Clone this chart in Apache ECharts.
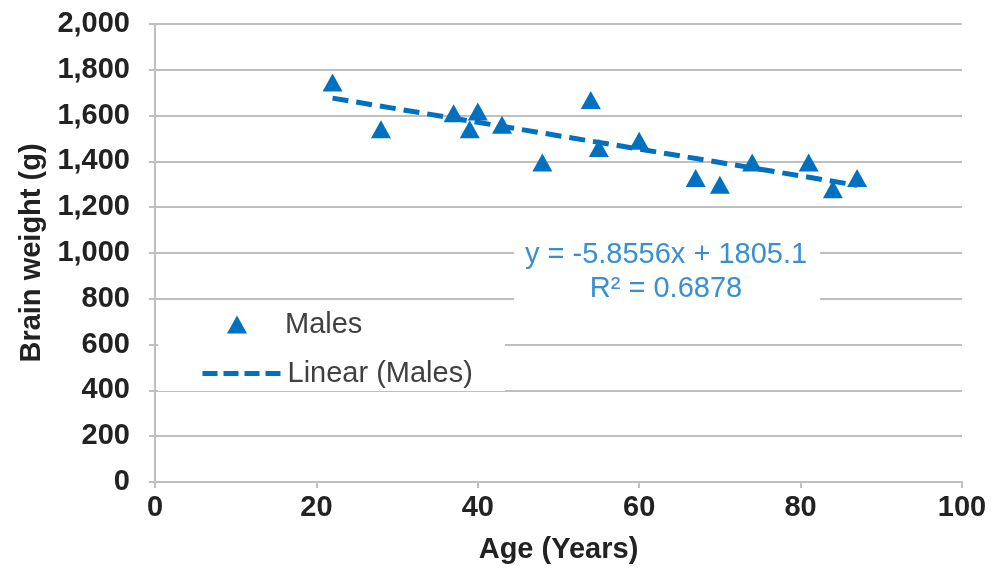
<!DOCTYPE html>
<html>
<head>
<meta charset="utf-8">
<title>Brain weight vs age</title>
<script src="https://cdn.jsdelivr.net/npm/echarts@6/dist/echarts.min.js"></script>
<style>
  html, body { margin: 0; padding: 0; background: #fff; }
  #chart { width: 999px; height: 574px; }
</style>
</head>
<body>
<div id="chart"></div>
<script>
// data
var ages = [22, 28, 37, 39, 40, 43, 48, 54, 55, 60, 67, 70, 74, 81, 84, 87];
var brainWeights = [1745, 1540, 1610, 1540, 1618, 1560, 1395, 1668, 1458, 1490, 1328, 1298, 1395, 1395, 1278, 1328];
var yTicks = [0, 200, 400, 600, 800, 1000, 1200, 1400, 1600, 1800, 2000];
var xTicks = [0, 20, 40, 60, 80, 100];
// trendline, as written on the chart
var slope = -5.8556;
var intercept = 1805.1;
var rSquared = 0.6878;

var blue = '#0070c0';
var gray = '#bfbfbf';
var font = 'Liberation Sans, Arial, sans-serif';
var fs = 29;

var points = ages.map(function (a, i) { return [a, brainWeights[i]]; });
var xMin = Math.min.apply(null, ages);
var xMax = Math.max.apply(null, ages);
var trend = [[xMin, intercept + slope * xMin], [xMax, intercept + slope * xMax]];

var myChart = echarts.init(document.getElementById('chart'));

var option = {
    animation: false,
    grid: { left: 155, right: 37, top: 24, bottom: 92 },
    xAxis: {
        type: 'value',
        min: xTicks[0],
        max: xTicks[xTicks.length - 1],
        interval: 20,
        name: 'Age (Years)',
        nameLocation: 'middle',
        nameGap: 53,
        nameTextStyle: { fontFamily: font, fontWeight: 'bold', fontSize: fs, color: '#222' },
        axisLine: { show: true, lineStyle: { color: gray, width: 2 } },
        axisTick: { show: true, length: 6, lineStyle: { color: gray, width: 2 } },
        axisLabel: { margin: 11, fontFamily: font, fontWeight: 'bold', fontSize: fs, color: '#222' },
        splitLine: { show: false }
    },
    yAxis: {
        type: 'value',
        min: yTicks[0],
        max: yTicks[yTicks.length - 1],
        interval: 200,
        name: 'Brain weight (g)',
        nameLocation: 'middle',
        nameGap: 104,
        nameTextStyle: { fontFamily: font, fontWeight: 'bold', fontSize: fs, color: '#222' },
        axisLine: { show: true, lineStyle: { color: gray, width: 2 } },
        axisTick: { show: true, length: 6, lineStyle: { color: gray, width: 2 } },
        axisLabel: {
            margin: 25, fontFamily: font, fontWeight: 'bold', fontSize: fs, color: '#222',
            formatter: function (v) { return v.toLocaleString('en-US'); }
        },
        splitLine: { show: true, lineStyle: { color: gray, width: 2 } }
    },
    legend: [{
        data: ['Males'],
        left: 222, top: 305,
        itemWidth: 20, itemHeight: 18,
        icon: 'triangle',
        z: 10,
        textStyle: { fontFamily: font, fontSize: fs, color: '#404040', padding: [0, 0, 0, 33] }
    }, {
        data: ['Linear (Males)'],
        left: 195, top: 354,
        itemWidth: 80, itemHeight: 5,
        z: 10,
        itemStyle: { opacity: 0 },
        lineStyle: { width: 5, type: [15, 6], color: blue, opacity: 1 },
        textStyle: { fontFamily: font, fontSize: fs, color: '#404040' }
    }],
    graphic: [{
        type: 'rect', z: 3,
        shape: { x: 158, y: 303, width: 347, height: 88 },
        style: { fill: '#fff' }
    }, {
        type: 'rect', z: 3,
        shape: { x: 514, y: 240, width: 306, height: 66 },
        style: { fill: '#fff' }
    }, {
        type: 'text', z: 4,
        x: 666, y: 255,
        style: {
            text: 'y = ' + slope + 'x + ' + intercept,
            fill: '#3a8fd2', font: fs + 'px ' + font,
            align: 'center', verticalAlign: 'middle'
        }
    }, {
        type: 'text', z: 4,
        x: 666, y: 289,
        style: {
            text: 'R\u00b2 = ' + rSquared,
            fill: '#3a8fd2', font: fs + 'px ' + font,
            align: 'center', verticalAlign: 'middle'
        }
    }],
    series: [{
        name: 'Males',
        type: 'scatter',
        symbol: 'triangle',
        symbolSize: [20, 18],
        itemStyle: { color: blue, opacity: 1 },
        data: points,
        z: 3
    }, {
        name: 'Linear (Males)',
        type: 'line',
        symbol: 'none',
        itemStyle: { color: blue },
        lineStyle: { color: blue, width: 5, type: [16, 8] },
        data: trend,
        z: 2
    }]
};

myChart.setOption(option);
</script>
</body>
</html>
